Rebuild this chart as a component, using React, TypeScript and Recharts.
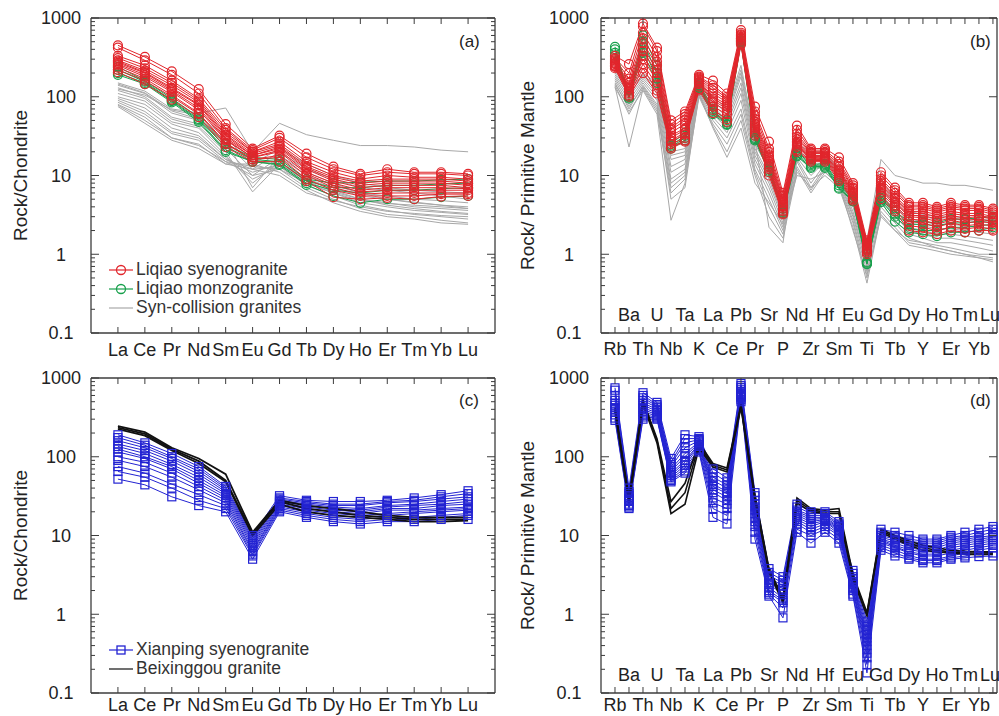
import React from "react";
import { LineChart, Line, XAxis, YAxis, Legend } from "recharts";

const REE = ["La", "Ce", "Pr", "Nd", "Sm", "Eu", "Gd", "Tb", "Dy", "Ho", "Er", "Tm", "Yb", "Lu"];
const SPIDER = [
  "Rb", "Ba", "Th", "U", "Nb", "Ta", "K", "La", "Ce", "Pb", "Pr", "Sr", "P", "Nd",
  "Zr", "Hf", "Sm", "Eu", "Ti", "Gd", "Tb", "Dy", "Y", "Ho", "Er", "Tm", "Yb", "Lu",
];

const Y_DECADES = [0.1, 1, 10, 100];
const Y_STEPS = [1, 2, 3, 4, 5, 6, 7, 8, 9];
const Y_TOP = 1000;

// (a) chondrite-normalised REE
const liqiaoSyenoREE = [
  [450, 320, 210, 125, 45, 22, 32, 19, 13, 10.5, 12, 11, 11, 10.5],
  [420, 290, 190, 110, 40, 21, 30, 17, 12, 10, 11, 10.5, 10.5, 10],
  [330, 250, 160, 95, 38, 20, 27, 15, 11, 9, 10, 9.5, 9.5, 9],
  [310, 230, 150, 90, 35, 20, 25, 14, 10, 8.5, 9, 9, 9, 8.5],
  [290, 215, 140, 85, 33, 19, 24, 13, 9.5, 8, 8.5, 8.5, 8.5, 8],
  [280, 205, 130, 80, 32, 18, 23, 12.5, 9, 7.5, 8, 8, 8, 7.5],
  [270, 200, 125, 78, 30, 18, 22, 12, 8.5, 7, 7.5, 7.5, 7.5, 7],
  [260, 190, 120, 72, 29, 17, 21, 11, 8, 6.5, 7, 7, 7, 6.8],
  [250, 180, 115, 68, 28, 17, 20, 10.5, 7.5, 6.2, 6.5, 6.5, 6.5, 6.5],
  [235, 170, 105, 62, 26, 16, 18, 10, 7, 5.8, 6, 6, 6, 6],
  [220, 160, 100, 60, 25, 16, 17, 9, 6.5, 5.5, 5.5, 5.5, 5.8, 5.8],
  [205, 145, 92, 55, 23, 15, 15, 8.5, 5.3, 5, 5.2, 5, 5.4, 5.5],
];
const liqiaoMonzoREE = [
  [240, 160, 95, 55, 25, 17, 16, 9, 8, 8.2, 8.5, 8.5, 8.8, 9],
  [220, 155, 90, 52, 23, 16, 15, 8.5, 7, 7, 7.5, 7.5, 7.8, 8],
  [200, 150, 88, 50, 21, 15, 14, 8, 6.5, 6, 6.5, 6.5, 6.8, 7],
  [190, 145, 85, 48, 20, 15, 13.6, 7.6, 5.5, 4.5, 5, 5, 5.3, 5.5],
];
const synCollisionREE = [
  [150, 118, 70, 62, 72, 20, 46, 33, 28, 24, 24, 23, 21, 20],
  [140, 110, 62, 50, 26, 12, 20, 12, 9, 7, 6.5, 6, 5.5, 5],
  [130, 100, 55, 45, 22, 10, 17, 10, 7.5, 6, 5.5, 5, 4.8, 4.5],
  [120, 95, 52, 42, 20, 6.2, 14, 9, 7, 5.5, 5, 4.5, 4.2, 4],
  [110, 88, 48, 40, 18, 8, 15, 9, 6.5, 5, 4.5, 4, 3.8, 3.6],
  [100, 80, 45, 35, 17, 9, 13, 8, 6, 4.5, 4, 3.6, 3.4, 3.2],
  [95, 72, 40, 32, 16, 11, 14, 8.5, 6.2, 5, 4.2, 3.8, 3.5, 3.3],
  [90, 65, 36, 30, 16, 12, 13, 7.5, 5.5, 4.2, 3.6, 3.2, 3, 2.8],
  [85, 60, 34, 28, 15, 13, 12, 7, 5, 3.8, 3.2, 3, 2.7, 2.5],
  [80, 55, 30, 25, 14, 14, 11, 6.5, 4.5, 3.5, 3, 2.8, 2.5, 2.4],
  [78, 50, 30, 24, 15, 10, 12, 8, 6, 4.8, 4.4, 4.2, 4, 3.8],
  [75, 46, 28, 22, 14, 12, 10, 6, 4.8, 4, 3.5, 3.3, 3.1, 3],
  [125, 105, 68, 58, 30, 14, 22, 14, 10, 8, 7, 6.5, 6.2, 6],
  [145, 112, 66, 52, 28, 7, 18, 11, 8, 6, 5, 4.6, 4.2, 3.8],
];

// (b) primitive-mantle-normalised spider
const liqiaoSyenoSpider = [
  [330, 260, 850, 420, 50, 65, 190, 160, 110, 700, 75, 27, 6, 43, 22, 22, 17, 8, 1.5, 11, 7, 4.5, 4.5, 4, 4.5, 4.2, 4.2, 3.8],
  [310, 200, 780, 380, 45, 60, 180, 140, 100, 650, 65, 22, 5.5, 38, 21, 21, 15, 7.5, 1.4, 10, 6.5, 4.2, 4.2, 3.8, 4.2, 4, 4, 3.6],
  [300, 170, 650, 320, 40, 55, 175, 130, 95, 620, 58, 20, 5, 34, 20, 20, 14, 7, 1.35, 9, 6, 4, 4, 3.6, 4, 3.8, 3.8, 3.4],
  [290, 150, 550, 280, 38, 50, 170, 120, 90, 600, 52, 18, 4.8, 31, 19.5, 19.5, 13, 6.8, 1.3, 8.5, 5.5, 3.7, 3.8, 3.4, 3.8, 3.6, 3.6, 3.2],
  [280, 140, 480, 250, 35, 45, 165, 110, 85, 580, 48, 17, 4.5, 29, 19, 19, 12, 6.5, 1.25, 8, 5.2, 3.5, 3.5, 3.2, 3.5, 3.3, 3.3, 3],
  [270, 130, 420, 220, 32, 40, 160, 100, 80, 560, 45, 16, 4.2, 27, 18, 18, 11.5, 6.2, 1.2, 7.5, 5, 3.3, 3.3, 3, 3.3, 3.1, 3.1, 2.9],
  [265, 125, 380, 200, 30, 38, 155, 95, 75, 550, 42, 15, 4, 26, 17.5, 17.5, 11, 6, 1.18, 7, 4.7, 3.1, 3.1, 2.8, 3.1, 2.9, 3, 2.8],
  [260, 120, 330, 180, 28, 35, 150, 90, 70, 530, 40, 14, 3.8, 25, 17, 17, 10.5, 5.8, 1.15, 6.8, 4.5, 3, 2.9, 2.6, 2.9, 2.7, 2.8, 2.6],
  [250, 115, 300, 160, 27, 33, 145, 85, 65, 520, 38, 13, 3.6, 24, 16.5, 16.5, 10, 5.5, 1.12, 6.5, 4.2, 2.8, 2.7, 2.4, 2.7, 2.5, 2.6, 2.5],
  [245, 110, 260, 140, 25, 30, 135, 75, 60, 500, 36, 12, 3.5, 23, 16, 16, 9.5, 5.2, 1.1, 6, 4, 2.6, 2.5, 2.2, 2.5, 2.3, 2.4, 2.3],
  [240, 105, 230, 120, 23, 28, 125, 68, 52, 480, 34, 11, 3.3, 21, 15.5, 15.5, 9, 5, 1.05, 5.5, 3.7, 2.3, 2.2, 2, 2.2, 2.1, 2.2, 2.1],
  [230, 100, 200, 110, 22, 27, 120, 62, 48, 460, 32, 10, 3.2, 20, 15, 15, 8.5, 4.8, 1, 5, 3.5, 2, 1.9, 1.8, 2, 1.9, 2, 2],
];
const liqiaoMonzoSpider = [
  [430, 100, 600, 250, 25, 35, 150, 70, 50, 550, 32, 13, 3.8, 20, 14, 14, 8, 5.2, 0.8, 5.5, 3.5, 2.6, 2.6, 2.5, 2.8, 2.8, 2.9, 3],
  [400, 98, 500, 200, 24, 32, 140, 66, 47, 520, 30, 12, 3.5, 19, 13.5, 13.5, 7.5, 5, 0.78, 5.2, 3.2, 2.4, 2.4, 2.3, 2.5, 2.5, 2.6, 2.7],
  [360, 102, 420, 170, 23, 30, 135, 63, 45, 500, 29, 11.5, 3.4, 18, 13, 13, 7, 4.8, 0.76, 4.8, 3, 2.1, 2, 2, 2.2, 2.2, 2.3, 2.4],
  [330, 95, 360, 150, 22, 28, 130, 60, 44, 480, 28, 11, 3.3, 17.5, 12.5, 12.5, 6.8, 4.7, 0.75, 4.6, 2.6, 1.9, 1.8, 1.7, 1.9, 1.9, 2, 2.2],
];
const synCollisionSpider = [
  [220, 140, 200, 150, 25, 25, 150, 100, 70, 250, 30, 15, 5, 25, 20, 20, 12, 6, 1.5, 16, 10, 9, 8, 8, 7.5, 7.5, 7, 6.5],
  [200, 120, 190, 130, 20, 22, 140, 90, 60, 200, 25, 12, 4, 22, 18, 18, 11, 5, 1.2, 8, 4.5, 3.2, 3, 2.8, 2.8, 2.7, 2.6, 2.5],
  [190, 110, 180, 120, 16, 18, 135, 80, 55, 180, 22, 10, 3.5, 20, 15, 17, 10.5, 4.5, 1.1, 7, 4, 2.8, 2.6, 2.4, 2.4, 2.3, 2.2, 2.1],
  [180, 100, 170, 110, 13, 16, 130, 75, 50, 150, 20, 9, 3, 18, 12, 16, 10, 4, 1, 6, 3.5, 2.5, 2.3, 2.1, 2.1, 2, 1.9, 1.8],
  [170, 90, 160, 100, 11, 14, 125, 70, 45, 130, 18, 8, 2.8, 17, 10, 15, 9.5, 3.5, 0.9, 5.5, 3.2, 2.2, 2, 1.8, 1.8, 1.7, 1.6, 1.5],
  [160, 80, 150, 90, 9, 12, 120, 60, 40, 110, 16, 7, 2.5, 16, 8, 14, 9, 3.2, 0.8, 5, 3, 2, 1.8, 1.6, 1.6, 1.5, 1.4, 1.3],
  [150, 70, 140, 80, 8, 11, 115, 55, 35, 90, 14, 6, 2.2, 15, 7, 13, 8.5, 3, 0.7, 4.5, 2.7, 1.8, 1.6, 1.4, 1.4, 1.3, 1.2, 1.1],
  [140, 60, 130, 70, 7, 10, 110, 50, 30, 70, 12, 5, 2, 13, 6.5, 12, 8, 2.7, 0.6, 4, 2.5, 1.6, 1.4, 1.3, 1.2, 1.1, 1, 1],
  [135, 23, 125, 65, 6, 9, 105, 45, 25, 60, 11, 4, 1.8, 12, 6, 11, 7.5, 2.5, 0.5, 3.5, 2.2, 1.4, 1.3, 1.2, 1.1, 1, 0.95, 0.9],
  [130, 65, 120, 60, 2.7, 8, 100, 42, 20, 50, 10, 3, 1.6, 11, 7, 10, 7, 2.2, 0.43, 3.2, 2, 1.3, 1.2, 1.1, 1, 0.95, 0.9, 0.85],
  [210, 130, 185, 140, 18, 20, 145, 85, 65, 220, 28, 2.2, 1.4, 21, 16, 19, 11.5, 5.5, 1.3, 9, 5, 3.5, 3.2, 3, 3, 2.9, 2.8, 2.7],
  [145, 75, 135, 75, 5, 7, 110, 40, 17, 40, 8, 4.5, 2.4, 10, 9, 11, 8, 2, 0.55, 3, 2, 1.5, 1.4, 1.2, 1.1, 1, 0.9, 0.8],
];

// (c) chondrite-normalised REE
const xianpingREE = [
  [190, 150, 110, 75, 42, 10, 32, 28, 27, 27, 28, 30, 33, 37],
  [175, 140, 100, 70, 40, 9.5, 30, 27, 25, 25, 27, 28, 31, 34],
  [160, 130, 95, 65, 38, 9, 29, 26, 24, 24, 26, 27, 29, 31],
  [145, 120, 88, 60, 36, 8.5, 28, 25, 23, 22, 24, 25, 27, 29],
  [135, 110, 80, 55, 34, 8, 27, 24, 22, 21, 23, 24, 25, 27],
  [125, 100, 75, 50, 32, 7.5, 26, 23, 21, 20, 22, 22, 24, 25],
  [115, 95, 70, 46, 30, 7, 25, 22, 20, 19, 21, 21, 22, 23],
  [100, 85, 62, 42, 28, 6.5, 24, 21, 19, 18, 19, 20, 21, 22],
  [90, 75, 55, 38, 26, 6.2, 23, 20, 18, 17, 18, 19, 20, 21],
  [75, 62, 45, 33, 24, 5.8, 22, 19, 17, 16, 17, 17, 18, 19],
  [65, 55, 40, 28, 22, 5.5, 21, 18, 16, 15, 16, 16, 17, 18],
  [52, 44, 31, 24, 20, 5, 20, 17, 15, 14, 15, 15, 16, 16],
];
const beixinggouREE = [
  [245, 205, 130, 95, 60, 11, 28, 24, 22, 20, 18, 17, 17, 17],
  [235, 195, 125, 88, 50, 10.5, 27, 22, 20, 18, 17, 16, 16, 16],
  [225, 185, 120, 82, 48, 10, 25, 20, 18, 17, 16, 15, 15, 15.5],
];

// (d) primitive-mantle-normalised spider
const xianpingSpider = [
  [750, 40, 650, 490, 95, 190, 180, 70, 54, 850, 35, 3.8, 3, 25, 20, 20, 15, 3.6, 0.8, 12, 11, 10, 9, 9, 10, 11, 12, 13],
  [700, 36, 600, 460, 85, 170, 170, 62, 48, 800, 32, 3.4, 2.7, 23, 19, 19, 14, 3.3, 0.7, 11, 10, 9, 8.5, 8.5, 9.5, 10, 11, 12],
  [600, 34, 560, 440, 80, 150, 165, 55, 44, 760, 28, 3.1, 2.5, 21, 18, 18, 13.5, 3, 0.62, 10.5, 9.5, 8.5, 8, 8, 9, 9.5, 10, 11],
  [520, 32, 520, 420, 75, 130, 160, 50, 40, 720, 25, 2.9, 2.3, 20, 17, 17, 13, 2.8, 0.55, 10, 9, 8, 7.5, 7.5, 8.5, 9, 9.5, 10],
  [480, 30, 480, 400, 70, 110, 155, 45, 36, 680, 23, 2.7, 2.1, 19, 16, 16.5, 12.5, 2.6, 0.5, 9.5, 8.5, 7.5, 7, 7, 8, 8.5, 9, 9.5],
  [450, 29, 450, 380, 66, 100, 150, 42, 34, 650, 21, 2.5, 2, 18, 15, 16, 12, 2.5, 0.45, 9, 8, 7, 6.5, 6.5, 7.5, 8, 8.5, 9],
  [420, 28, 420, 360, 62, 90, 145, 38, 31, 620, 19, 2.4, 1.8, 17, 14, 15.5, 11.5, 2.4, 0.4, 8.8, 7.5, 6.6, 6.2, 6.2, 7, 7.5, 8, 8.5],
  [400, 27, 400, 340, 58, 85, 140, 35, 28, 600, 17, 2.2, 1.6, 16, 13, 15, 11, 2.2, 0.36, 8.5, 7.2, 6.2, 5.8, 5.8, 6.5, 7, 7.5, 8],
  [370, 25, 370, 330, 55, 78, 135, 30, 25, 580, 15, 2, 1.5, 15, 12, 14, 10.5, 2.1, 0.32, 8, 7, 6, 5.5, 5.5, 6, 6.5, 7, 7.5],
  [340, 24, 340, 320, 52, 72, 125, 26, 22, 560, 13, 1.9, 1.4, 14, 11, 13, 10, 2, 0.28, 7.5, 6.5, 5.6, 5, 5, 5.5, 6, 6.5, 7],
  [310, 23, 320, 310, 50, 66, 120, 22, 18, 530, 11, 1.8, 1.2, 12, 10, 12, 9, 1.8, 0.23, 7, 6, 5.2, 4.8, 4.8, 5.2, 5.5, 6, 6],
  [290, 22, 300, 300, 48, 62, 115, 17, 14, 500, 9, 1.7, 0.9, 11, 8, 11, 8, 1.7, 0.18, 6.5, 5.5, 5, 4.5, 4.5, 5, 5.2, 5.4, 5.5],
];
const beixinggouSpider = [
  [420, 30, 520, 170, 27, 46, 150, 82, 72, 460, 32, 3.8, 1.6, 30, 22, 21, 22, 3.2, 1.05, 12, 10, 8.5, 7.5, 7, 6.5, 6.3, 6.2, 6.2],
  [400, 28, 480, 160, 22, 35, 140, 78, 68, 440, 30, 3.6, 1.5, 28, 21, 20, 20, 3, 1, 11.5, 9.5, 8, 7, 6.5, 6.2, 6, 6, 6],
  [380, 26, 460, 150, 19, 25, 130, 74, 64, 420, 28, 3.4, 1.4, 26, 20, 19, 19, 2.8, 0.95, 11, 9, 7.5, 6.5, 6.2, 6, 5.8, 5.7, 5.8],
];

const FONT = '"Liberation Sans", Arial, sans-serif';
const AXIS = "#3c3c3c";
const TXT = "#222";
const RED = "#e1262c";
const GREEN = "#18a04c";
const GREY = "#a8a8a8";
const BLUE = "#2323d2";
const BLACK = "#111";
const TICK_FONT = 18;

const Y_TICKS = [...Y_DECADES.flatMap((d) => Y_STEPS.map((s) => d * s)), Y_TOP];
const AXIS_LINE = { stroke: AXIS, strokeWidth: 1.3 };

type Marker = "circle" | "square" | "none";
type Group = { key: string; series: number[][]; color: string; width: number; marker: Marker };
type LegendItem = { label: string; color: string; marker: Marker };

const isMajor = (v: number) => {
  const lg = Math.log10(v);
  return Math.abs(lg - Math.round(lg)) < 1e-6;
};
const fmt = (v: number) => (v < 1 ? v.toFixed(1) : String(Math.round(v)));

function BottomTick(props: any) {
  const { x, y, payload, names, alternate, below } = props;
  const i = Math.round(payload.value) - 1;
  const up = alternate && i % 2 === 1;
  // the last spider label would run past the right edge of the picture
  const tx = alternate && i === names.length - 1 ? x - 3 : x;
  return (
    <g>
      <line x1={x} y1={y} x2={x} y2={y - 6} stroke={AXIS} strokeWidth={1} />
      <text x={tx} y={up ? y - 12 : y + below} textAnchor="middle" fontSize={TICK_FONT} fill={TXT} fontFamily={FONT}>
        {names[i]}
      </text>
    </g>
  );
}

function TopTick(props: any) {
  const { x, y } = props;
  return <line x1={x} y1={y} x2={x} y2={y + 6} stroke={AXIS} strokeWidth={1} />;
}

function LeftTick(props: any) {
  const { x, y, payload, dx } = props;
  const v = payload.value;
  const major = isMajor(v);
  return (
    <g>
      <line x1={x} y1={y} x2={x + (major ? 8 : 4)} y2={y} stroke={AXIS} strokeWidth={1} />
      {major && (
        <text x={x - dx} y={y} dy="0.36em" textAnchor="middle" fontSize={TICK_FONT} fill={TXT} fontFamily={FONT}>
          {fmt(v)}
        </text>
      )}
    </g>
  );
}

function RightTick(props: any) {
  const { x, y, payload, minor } = props;
  const major = isMajor(payload.value);
  if (!major && !minor) return <g />;
  return <line x1={x} y1={y} x2={x - (major ? 8 : 4)} y2={y} stroke={AXIS} strokeWidth={1} />;
}

function LegendBox({ items }: { items: LegendItem[] }) {
  return (
    <div style={{ fontFamily: FONT, fontSize: 17.5, color: "#333" }}>
      {items.map((it) => (
        <div key={it.label} style={{ display: "flex", alignItems: "center", height: 19 }}>
          <svg width={28} height={14}>
            <line x1={2} y1={7} x2={26} y2={7} stroke={it.color} strokeWidth={1.2} />
            {it.marker === "circle" && <circle cx={14} cy={7} r={4.5} fill="none" stroke={it.color} strokeWidth={1.3} />}
            {it.marker === "square" && <rect x={10} y={3} width={8} height={8} fill="none" stroke={it.color} strokeWidth={1.3} />}
          </svg>
          <span style={{ marginLeft: 1, whiteSpace: "nowrap" }}>{it.label}</span>
        </div>
      ))}
    </div>
  );
}

function buildRows(names: string[], groups: Group[]) {
  return names.map((el, i) => {
    const row: Record<string, number | string> = { x: i + 1, el };
    groups.forEach((g) => g.series.forEach((s, j) => { row[`${g.key}${j}`] = s[i]; }));
    return row;
  });
}

type PanelProps = {
  left: number; top: number; width: number; height: number;
  margin: { top: number; right: number; bottom: number; left: number };
  names: string[]; xMax: number; groups: Group[];
  yLabel: string; yLabelOffset: number; tickDx: number; below: number;
  alternate: boolean; rightMinor: boolean;
  letter: string; letterX: number; letterY: number;
  legend?: LegendItem[]; legendX?: number; legendY?: number;
};

// axes are 1px thick boxes; margins below are reduced by 1 so the plot frame lands where it should
function Panel(p: PanelProps) {
  const rows = buildRows(p.names, p.groups);
  const xTicks = p.names.map((_, i) => i + 1);
  return (
    <div style={{ position: "absolute", left: p.left, top: p.top, width: p.width, height: p.height }}>
      <LineChart width={p.width} height={p.height} data={rows} margin={p.margin}>
        <XAxis
          dataKey="x" type="number" domain={[0, p.xMax]} ticks={xTicks} interval={0}
          height={1} tickSize={0} tickMargin={0} tickLine={false} axisLine={AXIS_LINE}
          tick={(t: any) => <BottomTick {...t} names={p.names} alternate={p.alternate} below={p.below} />}
        />
        <XAxis
          xAxisId="top" orientation="top" dataKey="x" type="number" domain={[0, p.xMax]} ticks={xTicks}
          interval={0} height={1} tickSize={0} tickMargin={0} tickLine={false} axisLine={AXIS_LINE}
          tick={(t: any) => <TopTick {...t} />}
        />
        <YAxis
          type="number" scale="log" domain={[0.1, 1000]} allowDataOverflow ticks={Y_TICKS} interval={0}
          width={1} tickSize={0} tickMargin={0} tickLine={false} axisLine={AXIS_LINE}
          tick={(t: any) => <LeftTick {...t} dx={p.tickDx} />}
          label={{
            value: p.yLabel, angle: -90, position: "left", offset: p.yLabelOffset,
            style: { textAnchor: "middle", fontSize: 19, fontFamily: FONT, fill: TXT },
          }}
        />
        <YAxis
          yAxisId="right" orientation="right" type="number" scale="log" domain={[0.1, 1000]} allowDataOverflow
          ticks={Y_TICKS} interval={0} width={1} tickSize={0} tickMargin={0} tickLine={false} axisLine={AXIS_LINE}
          tick={(t: any) => <RightTick {...t} minor={p.rightMinor} />}
        />
        {p.groups.flatMap((g) =>
          g.series.map((_, j) => {
            const key = `${g.key}${j}`;
            let dot: any = false;
            if (g.marker === "circle") dot = { r: 4.5, fill: "none", stroke: g.color, strokeWidth: 1.2 };
            if (g.marker === "square")
              dot = (d: any) => (
                <rect key={`${key}-${d.index}`} x={d.cx - 4} y={d.cy - 4} width={8} height={8}
                  fill="none" stroke={g.color} strokeWidth={1.2} />
              );
            return (
              <Line key={key} dataKey={key} type="linear" stroke={g.color} strokeWidth={g.width}
                dot={dot} activeDot={false} isAnimationActive={false} />
            );
          })
        )}
        {p.legend && (
          <Legend
            layout="vertical" align="center" verticalAlign="middle"
            wrapperStyle={{ left: p.legendX, top: p.legendY, width: "auto" }}
            content={() => <LegendBox items={p.legend as LegendItem[]} />}
          />
        )}
      </LineChart>
      <div style={{ position: "absolute", left: p.letterX, top: p.letterY, fontFamily: FONT, fontSize: 17, lineHeight: "17px", color: TXT }}>
        {p.letter}
      </div>
    </div>
  );
}

export default function App() {
  return (
    <div style={{ position: "absolute", left: 0, top: 0, width: 999, height: 716, background: "#fff" }}>
      <Panel
        left={0} top={0} width={500} height={376} margin={{ top: 17, right: 4, bottom: 42, left: 90 }}
        names={REE} xMax={15}
        groups={[
          { key: "sc", series: synCollisionREE, color: GREY, width: 1, marker: "none" },
          { key: "lm", series: liqiaoMonzoREE, color: GREEN, width: 1, marker: "circle" },
          { key: "ls", series: liqiaoSyenoREE, color: RED, width: 1, marker: "circle" },
        ]}
        yLabel="Rock/Chondrite" yLabelOffset={70} tickDx={30} below={23} alternate={false} rightMinor
        letter="(a)" letterX={459} letterY={33}
        legend={[
          { label: "Liqiao syenogranite", color: RED, marker: "circle" },
          { label: "Liqiao monzogranite", color: GREEN, marker: "circle" },
          { label: "Syn-collision granites", color: GREY, marker: "none" },
        ]}
        legendX={107} legendY={260}
      />
      <Panel
        left={500} top={0} width={499} height={376} margin={{ top: 17, right: 1, bottom: 42, left: 100 }}
        names={SPIDER} xMax={28.29}
        groups={[
          { key: "sc", series: synCollisionSpider, color: GREY, width: 1, marker: "none" },
          { key: "lm", series: liqiaoMonzoSpider, color: GREEN, width: 1, marker: "circle" },
          { key: "ls", series: liqiaoSyenoSpider, color: RED, width: 1, marker: "circle" },
        ]}
        yLabel="Rock/ Primitive Mantle" yLabelOffset={73} tickDx={32} below={22} alternate rightMinor={false}
        letter="(b)" letterX={470} letterY={33}
      />
      <Panel
        left={0} top={358} width={500} height={358} margin={{ top: 19, right: 4, bottom: 22, left: 90 }}
        names={REE} xMax={15}
        groups={[
          { key: "xp", series: xianpingREE, color: BLUE, width: 1, marker: "square" },
          { key: "bx", series: beixinggouREE, color: BLACK, width: 1.8, marker: "none" },
        ]}
        yLabel="Rock/Chondrite" yLabelOffset={70} tickDx={30} below={18} alternate={false} rightMinor
        letter="(c)" letterX={459} letterY={34}
        legend={[
          { label: "Xianping syenogranite", color: BLUE, marker: "square" },
          { label: "Beixinggou granite", color: BLACK, marker: "none" },
        ]}
        legendX={107} legendY={282}
      />
      <Panel
        left={500} top={358} width={499} height={358} margin={{ top: 19, right: 1, bottom: 22, left: 100 }}
        names={SPIDER} xMax={28.29}
        groups={[
          { key: "xp", series: xianpingSpider, color: BLUE, width: 1, marker: "square" },
          { key: "bx", series: beixinggouSpider, color: BLACK, width: 1.6, marker: "none" },
        ]}
        yLabel="Rock/ Primitive Mantle" yLabelOffset={73} tickDx={32} below={18} alternate rightMinor={false}
        letter="(d)" letterX={470} letterY={34}
      />
    </div>
  );
}
